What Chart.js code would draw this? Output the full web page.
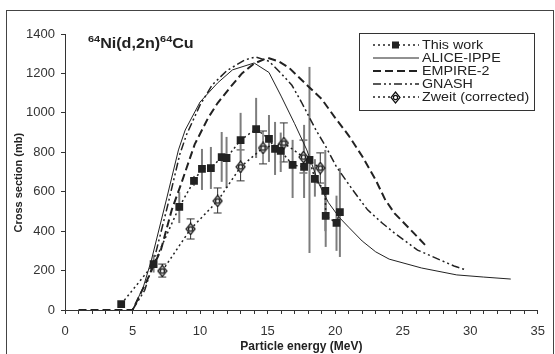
<!DOCTYPE html>
<html>
<head>
<meta charset="utf-8">
<script src="https://cdn.jsdelivr.net/npm/chart.js@4"></script>
<style>
  html, body { margin: 0; padding: 0; background: #fff; }
  #wrap { width: 555px; height: 354px; }
</style>
</head>
<body>
<div id="wrap"><canvas id="xs" width="555" height="354"></canvas></div>
<script>
// --- data (E in MeV, cross section in mb) ---
const aliceE = [5.0, 5.8, 6.4, 7.5, 8.4, 8.9, 10.0, 11.3, 12.4, 14.0, 15.1, 16.0, 17.0, 17.9, 18.8, 19.5, 20.3, 21.0, 22.0, 23.0, 24.0, 26.4, 29.0, 31.0, 33.0];
const aliceS = [0, 117, 254, 558, 812, 913, 1055, 1152, 1218, 1253, 1205, 1085, 945, 812, 640, 545, 470, 420, 350, 295, 258, 213, 178, 167, 157];

const empireE = [1.0, 5.0, 6.0, 7.1, 7.9, 8.6, 9.6, 10.6, 11.3, 12.2, 13.1, 14.0, 15.0, 15.8, 16.6, 18.0, 19.0, 20.0, 21.0, 22.0, 23.0, 23.7, 24.4, 25.4, 26.8];
const empireS = [0, 0, 140, 305, 507, 640, 840, 975, 1050, 1127, 1200, 1250, 1279, 1262, 1228, 1135, 1070, 975, 885, 780, 660, 560, 490, 420, 320];

const gnashE = [5.0, 5.9, 6.5, 7.6, 8.5, 9.0, 10.0, 10.9, 12.0, 13.3, 14.1, 15.1, 16.0, 16.8, 17.5, 18.6, 19.3, 20.1, 21.3, 22.4, 23.5, 24.4, 26.1, 28.8, 29.7];
const gnashS = [0, 100, 230, 530, 790, 890, 1040, 1142, 1215, 1268, 1284, 1262, 1200, 1140, 1055, 910, 830, 726, 609, 508, 440, 390, 304, 223, 203];

const workE  = [4.16, 6.56, 8.46, 9.55, 10.14, 10.8, 11.6, 11.96, 13.0, 14.15, 15.1, 15.55, 15.97, 16.85, 17.7, 18.1, 18.5, 19.27, 19.3, 20.1, 20.35];
const workS  = [30, 233, 523, 655, 716, 720, 776, 771, 862, 918, 868, 817, 807, 736, 726, 761, 665, 604, 477, 442, 497];
const workLo = [30, 190, 441, 630, 609, 614, 650, 619, 695, 771, 751, 685, 700, 568, 568, 289, 575, 400, 320, 300, 269];
const workHi = [30, 280, 598, 680, 817, 827, 903, 878, 1000, 1076, 989, 954, 900, 863, 939, 1233, 765, 812, 600, 580, 720];

const zweitE  = [7.2, 9.3, 11.3, 13.0, 14.66, 16.2, 17.65, 18.9];
const zweitS  = [198, 411, 553, 726, 822, 847, 776, 720];
const zweitLo = [167, 360, 492, 655, 741, 751, 695, 644];
const zweitHi = [233, 462, 619, 812, 908, 949, 862, 797];

const yTicks = [0, 200, 400, 600, 800, 1000, 1200, 1400];
const xLabels = [0, 5, 10, 15, 20, 25, 30, 35];

const INK = '#222';
const FONT = "'Liberation Sans', Arial, sans-serif";

function pts(xs, ys) {
    return xs.map((x, i) => ({ x: x, y: ys[i] }));
}

// open diamond with a small ring inside (Zweit marker)
function makeDiamond() {
    const c = document.createElement('canvas');
    c.width = 11; c.height = 13;
    const g = c.getContext('2d');
    g.fillStyle = '#fff';
    g.strokeStyle = '#111';
    g.lineWidth = 1.2;
    g.beginPath();
    g.moveTo(5.5, 1); g.lineTo(10, 6.5); g.lineTo(5.5, 12); g.lineTo(1, 6.5);
    g.closePath();
    g.fill(); g.stroke();
    g.beginPath();
    g.arc(5.5, 6.5, 2.1, 0, Math.PI * 2);
    g.stroke();
    return c;
}
const diamond = makeDiamond();

// vertical error bars, positioned through the chart's own scales
const errorBars = {
    id: 'errorBars',
    beforeDatasetsDraw(chart) {
        const ctx = chart.ctx;
        const ys = chart.scales.y;
        chart.data.datasets.forEach((ds, di) => {
            if (!ds.errLo) return;
            const meta = chart.getDatasetMeta(di);
            ctx.save();
            ctx.strokeStyle = ds.errColor;
            ctx.lineWidth = ds.errWidth;
            meta.data.forEach((p, i) => {
                const top = ys.getPixelForValue(ds.errHi[i]);
                const bot = ys.getPixelForValue(ds.errLo[i]);
                if (Math.abs(bot - top) < 1) return;
                ctx.beginPath();
                ctx.moveTo(p.x, top); ctx.lineTo(p.x, bot);
                if (ds.errCap) {
                    ctx.moveTo(p.x - ds.errCap, top); ctx.lineTo(p.x + ds.errCap, top);
                    ctx.moveTo(p.x - ds.errCap, bot); ctx.lineTo(p.x + ds.errCap, bot);
                }
                ctx.stroke();
            });
            ctx.restore();
        });
    }
};

// outer frame, reaction label and legend box
const decor = {
    id: 'decor',
    afterDraw(chart) {
        const ctx = chart.ctx;
        ctx.save();
        ctx.strokeStyle = '#444';
        ctx.lineWidth = 1;
        ctx.strokeRect(6.5, 10.5, 547, 360);

        // 64Ni(d,2n)64Cu
        ctx.fillStyle = INK;
        ctx.textBaseline = 'alphabetic';
        ctx.save();
        ctx.translate(88, 48);
        ctx.scale(1.15, 1);
        let x = 0;
        const parts = [['64', true], ['Ni(d,2n)', false], ['64', true], ['Cu', false]];
        parts.forEach(([t, sup]) => {
            ctx.font = sup ? 'bold 9.5px ' + FONT : 'bold 14px ' + FONT;
            ctx.fillText(t, x, sup ? -6 : 0);
            x += ctx.measureText(t).width;
        });
        ctx.restore();

        // legend
        ctx.strokeStyle = '#333';
        ctx.strokeRect(359.5, 33.5, 175, 77);
        const items = [
            { label: 'This work', dash: [2, 3], width: 1.5, marker: 'square' },
            { label: 'ALICE-IPPE', dash: [], width: 1 },
            { label: 'EMPIRE-2', dash: [8, 4], width: 2 },
            { label: 'GNASH', dash: [8, 3, 2, 3, 2, 3], width: 1.5 },
            { label: 'Zweit (corrected)', dash: [2, 3], width: 1.5, marker: 'diamond' }
        ];
        items.forEach((it, i) => {
            const y = 45 + i * 13;
            ctx.save();
            ctx.strokeStyle = INK;
            ctx.lineWidth = it.width;
            ctx.setLineDash(it.dash);
            ctx.beginPath();
            ctx.moveTo(373, y); ctx.lineTo(419, y);
            ctx.stroke();
            ctx.restore();
            if (it.marker === 'square') {
                ctx.fillStyle = INK;
                ctx.fillRect(392, y - 3.5, 7, 7);
            } else if (it.marker === 'diamond') {
                ctx.drawImage(diamond, 390, y - 6);
            }
            ctx.save();
            ctx.fillStyle = INK;
            ctx.font = '13px ' + FONT;
            ctx.textBaseline = 'middle';
            ctx.translate(422, y);
            ctx.scale(1.1, 1);
            ctx.fillText(it.label, 0, 0);
            ctx.restore();
        });
        ctx.restore();
    }
};

new Chart(document.getElementById('xs'), {
    type: 'scatter',
    data: {
        datasets: [
            {
                label: 'ALICE-IPPE',
                data: pts(aliceE, aliceS),
                showLine: true, borderColor: INK, borderWidth: 1,
                pointRadius: 0, tension: 0
            },
            {
                label: 'EMPIRE-2',
                data: pts(empireE, empireS),
                showLine: true, borderColor: INK, borderWidth: 2, borderDash: [8, 4],
                pointRadius: 0, tension: 0
            },
            {
                label: 'GNASH',
                data: pts(gnashE, gnashS),
                showLine: true, borderColor: INK, borderWidth: 1.5, borderDash: [8, 3, 2, 3, 2, 3],
                pointRadius: 0, tension: 0
            },
            {
                label: 'Zweit (corrected)',
                data: pts(zweitE, zweitS),
                showLine: true, borderColor: INK, borderWidth: 1.5, borderDash: [2, 3],
                pointStyle: diamond, pointRadius: 5,
                errLo: zweitLo, errHi: zweitHi, errColor: '#333', errWidth: 1, errCap: 4
            },
            {
                label: 'This work',
                data: pts(workE, workS),
                showLine: true, borderColor: INK, borderWidth: 1.5, borderDash: [2, 3],
                pointStyle: 'rect', pointRadius: 5.5,
                pointBackgroundColor: INK, pointBorderColor: INK, pointBorderWidth: 0,
                errLo: workLo, errHi: workHi, errColor: '#7d7d7d', errWidth: 2
            }
        ]
    },
    options: {
        responsive: false,
        animation: false,
        layout: { padding: { left: 0, top: 34, right: 10, bottom: 0 } },
        plugins: {
            legend: { display: false },
            tooltip: { enabled: false }
        },
        scales: {
            x: {
                type: 'linear',
                min: 0, max: 35,
                afterFit: s => { s.height = 44; },
                border: { display: true, color: '#333', width: 1 },
                grid: { display: true, drawOnChartArea: false, drawTicks: true, tickLength: 4, color: '#333' },
                ticks: {
                    stepSize: 1, autoSkip: false, maxRotation: 0, padding: 10,
                    color: '#333', font: { size: 13, family: FONT },
                    callback: v => (xLabels.includes(v) ? String(v) : '')
                },
                title: {
                    display: true, text: 'Particle energy (MeV)', color: INK,
                    font: { size: 12, weight: 'bold', family: FONT },
                    padding: { top: 0, bottom: 0 }
                }
            },
            y: {
                min: 0, max: 1400,
                afterFit: s => { s.width = 65; },
                border: { display: true, color: '#333', width: 1 },
                grid: { display: true, drawOnChartArea: false, drawTicks: true, tickLength: 4, color: '#333' },
                afterBuildTicks: s => { s.ticks = yTicks.map(v => ({ value: v })); },
                ticks: {
                    padding: 6, color: '#333', font: { size: 13, family: FONT },
                    callback: v => String(v)
                },
                title: {
                    display: true, text: 'Cross section (mb)       ', color: INK,
                    font: { size: 11, weight: 'bold', family: FONT },
                    padding: { top: 12, bottom: 0 }
                }
            }
        }
    },
    plugins: [errorBars, decor]
});
</script>
</body>
</html>
